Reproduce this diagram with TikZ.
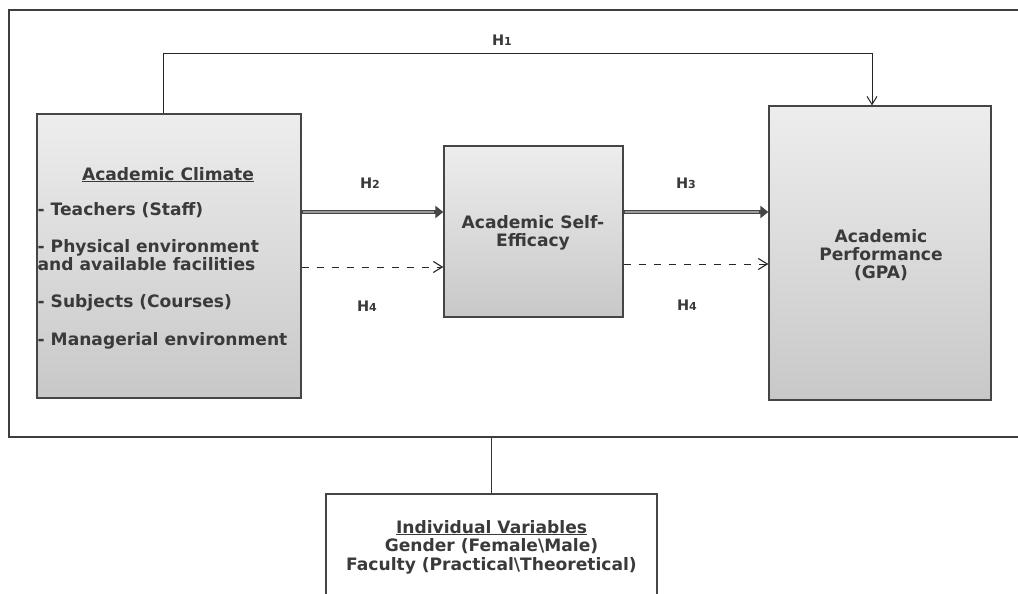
\documentclass[tikz,border=0pt]{standalone}
\usepackage{fontspec}
\setmainfont{DejaVu Sans}
\usetikzlibrary{arrows.meta}
\definecolor{ink}{HTML}{3A3A3A}
\definecolor{edge}{HTML}{454545}
\definecolor{boxtop}{HTML}{EDEDED}
\definecolor{boxbot}{HTML}{C8C8C8}
\definecolor{midline}{HTML}{9A9A9A}
\newcommand\hlab[1]{H{\fontsize{11}{11}\selectfont #1}}
\begin{document}
\begin{tikzpicture}[x=1pt,y=-1pt,
  gbox/.style={draw=edge,line width=1.3pt,top color=boxtop,bottom color=boxbot,inner sep=0pt},
  txt/.style={text=ink,font=\bfseries\fontsize{17.1}{19}\selectfont,inner sep=0pt},
  hl/.style={text=ink,font=\bfseries\fontsize{14.5}{16}\selectfont,inner sep=0pt},
  frameline/.style={draw=edge!90!black,line width=1.3pt},
  thinline/.style={draw=black!80,line width=1pt},
  dasharr/.style={draw=black!85,line width=0.9pt,dash pattern=on 7pt off 8pt,-{Straight Barb[length=9pt,width=11pt,line width=1.1pt]}},
  openarr/.style={draw=black!85,line width=1pt,-{Straight Barb[length=8pt,width=10pt,line width=1pt]}},
  thickarr/.style={draw=edge,line width=4.8pt,-{Triangle[length=8pt,width=12pt]}},
  thickmid/.style={draw=midline,line width=1.3pt}
]
\clip (0,0) rectangle (1018,594);
\fill[white] (0,0) rectangle (1018,594);

% outer frame (open on the right)
\draw[frameline] (1030,10) -- (9,10) -- (9,437) -- (1030,437);

% boxes
\node[gbox,minimum width=264pt,minimum height=284pt] (ac) at (169,256) {};
\node[gbox,minimum width=179pt,minimum height=171pt] (se) at (533.5,231.5) {};
\node[gbox,minimum width=222pt,minimum height=294pt] (gpa) at (880,253) {};
\node[draw=edge,line width=1.3pt,fill=white,minimum width=331pt,minimum height=146pt,inner sep=0pt] (iv) at (491.5,567) {};

% left box text
\node[txt,anchor=base] (t0) at (168,180) {\underline{Academic Climate}};
\node[txt,anchor=base west] (t1) at (37.5,215) {- Teachers (Staff)};
\node[txt,anchor=base west] (t2) at (37.5,252) {- Physical environment};
\node[txt,anchor=base west] (t3) at (37.5,270) {and available facilities};
\node[txt,anchor=base west] (t4) at (37.5,307) {- Subjects (Courses)};
\node[txt,anchor=base west] (t5) at (37.5,345) {- Managerial environment};

% middle box text
\node[txt,anchor=base] (s1) at (533,228) {Academic Self-};
\node[txt,anchor=base] (s2) at (533,246) {Efficacy};

% right box text
\node[txt,anchor=base] (g1) at (881,242) {Academic};
\node[txt,anchor=base] (g2) at (881,260) {Performance};
\node[txt,anchor=base] (g3) at (881,278) {(GPA)};

% bottom box text
\node[txt,anchor=base] (i1) at (491.5,533) {\underline{Individual Variables}};
\node[txt,anchor=base] (i2) at (491.5,551.5) {Gender (Female\textbackslash Male)};
\node[txt,anchor=base] (i3) at (491.5,570) {Faculty (Practical\textbackslash Theoretical)};

% coordinates for connector rows
\coordinate (h1) at (163,54);
\coordinate (rowA) at (0,212);
\coordinate (rowB) at (0,267);
\coordinate (rowC) at (0,264);
\coordinate (fb) at (491.5,437);

% H1
\draw[openarr] (ac.north -| h1) -- (h1) -| ([xshift=-8pt]gpa.north);
% H2, H3 thick arrows
\draw[thickarr] (ac.east |- rowA) -- (se.west |- rowA);
\draw[thickmid] ([xshift=1pt]ac.east |- rowA) -- ([xshift=-9pt]se.west |- rowA);
\draw[thickarr] (se.east |- rowA) -- (gpa.west |- rowA);
\draw[thickmid] ([xshift=1pt]se.east |- rowA) -- ([xshift=-9pt]gpa.west |- rowA);
% H4 dashed arrows
\draw[dasharr] (ac.east |- rowB) -- (se.west |- rowB);
\draw[dasharr] (se.east |- rowC) -- (gpa.west |- rowC);
% frame to individual variables
\draw[thinline] (fb) -- (iv.north);

% labels
\node[hl] (lh1) at (502,40) {\hlab{1}};
\node[hl] (lh2) at (370,183) {\hlab{2}};
\node[hl] (lh3) at (686,183) {\hlab{3}};
\node[hl] (lh4a) at (367,306) {\hlab{4}};
\node[hl] (lh4b) at (687,305) {\hlab{4}};
\end{tikzpicture}
\end{document}
